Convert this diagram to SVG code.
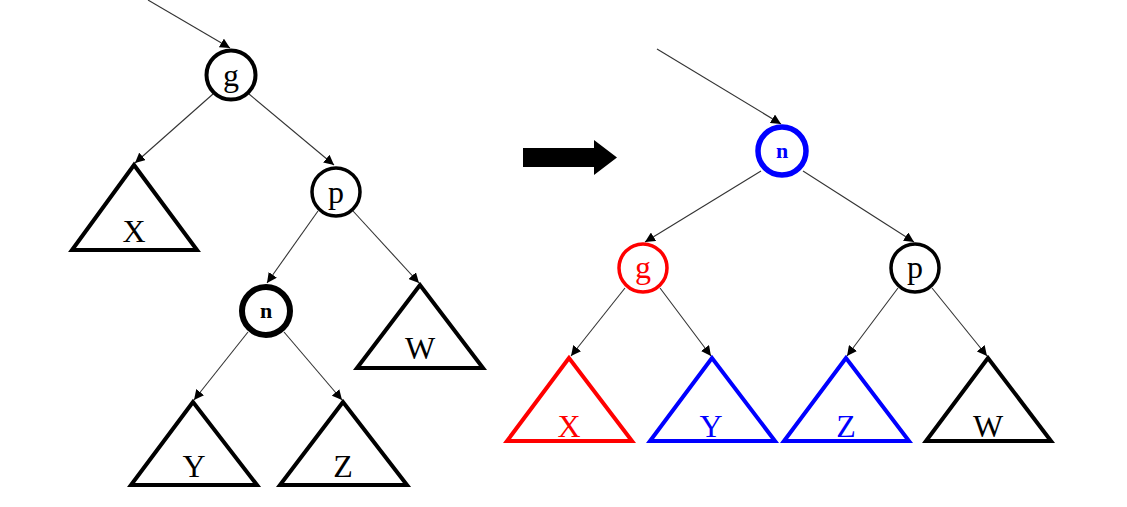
<svg xmlns="http://www.w3.org/2000/svg" width="1127" height="507" viewBox="0 0 1127 507">
<style>
.lbl{font-family:"Liberation Serif","Times New Roman",serif;font-size:32px;text-anchor:middle}
.nl{font-family:"Liberation Serif","Times New Roman",serif;font-size:22px;font-weight:bold;text-anchor:middle}
.tri{fill:#fff;stroke-width:4;stroke-linejoin:miter}
.node{fill:#fff}
.edge{stroke:#333;stroke-width:1.1;fill:none;marker-end:url(#ah)}
</style>
<defs>
<marker id="ah" viewBox="0 0 10 10" refX="10" refY="5" markerWidth="10" markerHeight="10" markerUnits="userSpaceOnUse" orient="auto">
<path d="M0,0 L10,5 L0,10 z" fill="#000"/>
</marker>
</defs>
<rect width="1127" height="507" fill="#fff"/>
<g id="connectors">
<line class="edge" x1="148" y1="0" x2="230" y2="48"/>
<line class="edge" x1="213" y1="94" x2="135" y2="163"/>
<line class="edge" x1="249" y1="94" x2="334" y2="165"/>
<line class="edge" x1="318" y1="211" x2="267" y2="283"/>
<line class="edge" x1="353" y1="211" x2="419" y2="283"/>
<line class="edge" x1="248" y1="332" x2="194" y2="400"/>
<line class="edge" x1="284" y1="332" x2="342" y2="400"/>
<line class="edge" x1="657" y1="49" x2="781" y2="124"/>
<line class="edge" x1="761" y1="171" x2="645" y2="242"/>
<line class="edge" x1="803" y1="171" x2="914" y2="242"/>
<line class="edge" x1="625" y1="288" x2="571" y2="356"/>
<line class="edge" x1="660" y1="288" x2="711" y2="356"/>
<line class="edge" x1="898" y1="288" x2="847" y2="356"/>
<line class="edge" x1="932" y1="288" x2="987" y2="356"/>
</g>
<g id="arrow-big">
<polygon points="523,148 594,148 594,140 617,157.5 594,175 594,167 523,167" fill="#000"/>
</g>
<g id="L-g"><circle class="node" cx="231" cy="75" r="24.5" stroke="#000" stroke-width="4"/><text class="lbl" x="231" y="86">g</text></g>
<g id="L-p"><circle class="node" cx="336" cy="192" r="24" stroke="#000" stroke-width="3.5"/><text class="lbl" x="336" y="203">p</text></g>
<g id="L-n"><circle class="node" cx="266" cy="311" r="24" stroke="#000" stroke-width="6"/><text class="nl" x="266" y="318">n</text></g>
<g id="L-X"><polygon class="tri" points="134,165 72,250 197,250" stroke="#000"/><text class="lbl" x="134" y="242">X</text></g>
<g id="L-W"><polygon class="tri" points="420,285 357,368 483,368" stroke="#000"/><text class="lbl" x="420" y="359">W</text></g>
<g id="L-Y"><polygon class="tri" points="193,402 131,485 257,485" stroke="#000"/><text class="lbl" x="194" y="477">Y</text></g>
<g id="L-Z"><polygon class="tri" points="343,402 280,485 407,485" stroke="#000"/><text class="lbl" x="343" y="477">Z</text></g>
<g id="R-n"><circle class="node" cx="782" cy="151" r="24" stroke="#0000ff" stroke-width="5.5"/><text class="nl" x="782" y="158" fill="#0000ff">n</text></g>
<g id="R-g"><circle class="node" cx="643" cy="268" r="24" stroke="#ff0000" stroke-width="3.5"/><text class="lbl" x="643" y="278" fill="#ff0000">g</text></g>
<g id="R-p"><circle class="node" cx="915" cy="268" r="24" stroke="#000" stroke-width="3.5"/><text class="lbl" x="915" y="278">p</text></g>
<g id="R-X"><polygon class="tri" points="569,358 507,441 632,441" stroke="#ff0000"/><text class="lbl" x="569" y="437" fill="#ff0000">X</text></g>
<g id="R-Y"><polygon class="tri" points="712,358 650,441 775,441" stroke="#0000ff"/><text class="lbl" x="711" y="437" fill="#0000ff">Y</text></g>
<g id="R-Z"><polygon class="tri" points="846,358 784,441 909,441" stroke="#0000ff"/><text class="lbl" x="846" y="437" fill="#0000ff">Z</text></g>
<g id="R-W"><polygon class="tri" points="988,358 926,441 1051,441" stroke="#000"/><text class="lbl" x="988" y="437">W</text></g>
</svg>
